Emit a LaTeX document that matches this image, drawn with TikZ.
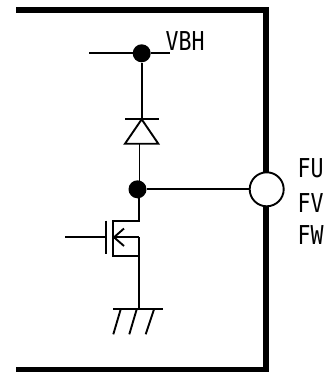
\documentclass[tikz,border=0pt]{standalone}
\usepackage{fontspec}
\newfontfamily\lblfont[FakeStretch=0.83]{DejaVu Sans Mono}
\begin{document}
\begin{tikzpicture}[x=1pt,y=-1pt,
  wire/.style={line width=1.9pt,black},
  frame/.style={line width=6pt,black},
  dot/.style={circle,fill=black,inner sep=0pt,minimum size=18pt},
  port/.style={circle,draw=black,fill=white,line width=1.9pt,inner sep=0pt,minimum size=34pt},
  lbl/.style={font=\lblfont\fontsize{26}{26}\selectfont,anchor=base west,inner sep=0pt}]
\useasboundingbox (0,0) rectangle (328,372);
\fill[white] (0,0) rectangle (328,372);
% outer frame
\draw[frame,line cap=butt,line join=miter] (16,9.7) -- (265.8,9.7) -- (265.8,369.5) -- (16,369.5);
% nodes
\node[dot] (top) at (141.7,53.3) {};
\node[dot] (mid) at (137.5,189.3) {};
\node[port] (out) at (266.7,189.3) {};
% coordinates
\coordinate (vl) at (89,53.3);
\coordinate (vr) at (170,53.3);
\coordinate (cath) at (141.7,119.3);
\coordinate (dl) at (125,119.3);
\coordinate (dr) at (158.5,119.3);
\coordinate (bl) at (125,143.7);
\coordinate (br) at (158.3,143.7);
\coordinate (bm) at (139.5,143.7);
\coordinate (midt) at (139.5,185);
\coordinate (midb) at (139.3,195);
\coordinate (drainc) at (139.3,221.3);
\coordinate (draini) at (113.3,221.3);
\coordinate (srci) at (113.3,255.7);
\coordinate (srcc) at (139.3,255.7);
\coordinate (midi) at (114,237.3);
\coordinate (midc) at (139.3,237.3);
\coordinate (gt) at (105.7,220.7);
\coordinate (gb) at (105.7,254);
\coordinate (gm) at (105.7,237.3);
\coordinate (gin) at (65,237.3);
\coordinate (gnd) at (139.3,309.3);
\coordinate (gl) at (113,309.3);
\coordinate (gr) at (162.5,309.3);
% supply and diode
\draw[wire] (vl) -- (top) -- (vr);
\draw[wire] (top) -- (cath);
\draw[wire] (dl) -- (dr);
\draw[wire,line join=miter] (cath) -- (br) -- (bl) -- cycle;
\draw[wire] (bm) -- (midt);
\draw[wire] (mid) -- (out);
% mosfet
\draw[wire,line join=miter] (midb) -- (drainc) -- (draini) -- (srci) -- (srcc);
\draw[wire] (midi) -- (midc);
\draw[wire] (midc) -- (gnd);
\draw[wire] (gt) -- (gb);
\draw[wire] (gin) -- (gm);
\draw[wire] (124,228.5) -- (midi) -- (124,246);
% ground
\draw[wire] (gl) -- (gr);
\draw[wire] (120.7,309.3) -- (113.3,334.3);
\draw[wire] (136.7,309.3) -- (129.3,334.3);
\draw[wire] (154,309.3) -- (145.7,334.3);
% labels
\node[lbl] (vbh) at (165.5,50) {VBH};
\node[lbl] (fu) at (297.5,177.5) {FU};
\node[lbl] (fv) at (297.5,212.5) {FV};
\node[lbl] (fw) at (297.5,244) {FW};
\end{tikzpicture}
\end{document}
